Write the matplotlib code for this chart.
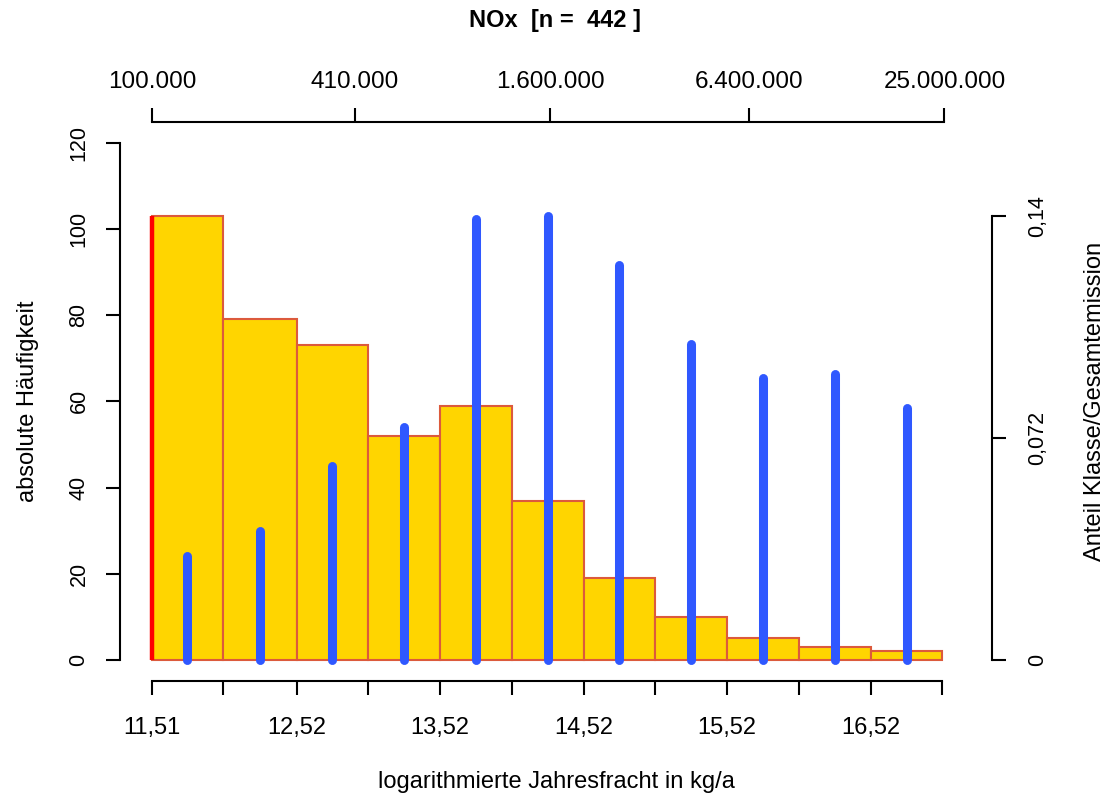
import numpy as np
import matplotlib
matplotlib.use("Agg")
import matplotlib.pyplot as plt

plt.rcParams['font.family'] = ['Liberation Sans', 'DejaVu Sans']

# histogram of log annual loads
bin_edges = [11.51, 12.01, 12.52, 13.02, 13.52, 14.02, 14.52, 15.02, 15.52, 16.02, 16.52, 17.02]
counts = [103, 79, 73, 52, 59, 37, 19, 10, 5, 3, 2]
# share of class in total emission
shares = [0.0336, 0.0419, 0.0628, 0.0756, 0.143, 0.144, 0.128, 0.1026, 0.0916, 0.0927, 0.0818]
share_ticks = [0, 0.072, 0.144]
share_ticklabels = ["0", "0,072", "0,14"]
bottom_labels = ["11,51", "", "12,52", "", "13,52", "", "14,52", "", "15,52", "", "16,52", ""]
top_values = [100000, 410000, 1600000, 6400000, 25000000]
top_labels = ["100.000", "410.000", "1.600.000", "6.400.000", "25.000.000"]
left_ticks = [0, 20, 40, 60, 80, 100, 120]
n_total = 442

W, H = 1105, 796
fig = plt.figure(figsize=(W / 100, H / 100), dpi=100)
ax = fig.add_axes([120 / W, 1 - 680.7 / H, 854 / W, (680.7 - 122) / H])

edges = np.array(bin_edges)
widths = np.diff(edges)
centers = edges[:-1] + widths / 2

ax.bar(edges[:-1], counts, width=widths, align='edge', color='#FFD500',
       edgecolor='#DC5A3C', linewidth=1.5, zorder=2)
ax.plot([edges[0], edges[0]], [0, counts[0]], color='#FF0000', lw=3.2,
        solid_capstyle='butt', zorder=3)

ymin, ymax = -4.8, 124.8
ax.set_xlim(11.29, 17.24)
ax.set_ylim(ymin, ymax)

ax.spines['right'].set_visible(False)
ax.spines['left'].set_bounds(0, 120)
ax.spines['bottom'].set_bounds(edges[0], edges[-1])
ax.spines['top'].set_bounds(np.log(top_values[0]), np.log(top_values[-1]))
for s in ['left', 'bottom', 'top']:
    ax.spines[s].set_linewidth(1.5)

ax.set_yticks(left_ticks)
ax.set_yticklabels([str(v) for v in left_ticks], rotation=90, va='center', fontsize=15.5)
ax.tick_params(axis='y', length=10, width=1.5, pad=12)

ax.set_xticks(edges)
ax.set_xticklabels(bottom_labels, fontsize=17)
ax.tick_params(axis='x', length=10, width=1.5, pad=16)

# top axis: back-transformed loads
axt = ax.secondary_xaxis('top')
axt.set_xticks(np.log(top_values))
axt.set_xticklabels(top_labels, fontsize=17.5)
axt.tick_params(length=10, width=1.5, pad=11)
axt.spines['top'].set_visible(False)

# right axis: share of total emission
scale = share_ticks[-1] / counts[0]
ax2 = ax.twinx()
ax2.set_ylim(ymin * scale, ymax * scale)
for x, s in zip(centers, shares):
    ax2.plot([x, x], [0, s], color='#2F58FF', lw=6.5, solid_capstyle='round', zorder=4)
for s in ['left', 'top', 'bottom']:
    ax2.spines[s].set_visible(False)
ax2.spines['right'].set_position(('outward', 13))
ax2.spines['right'].set_bounds(0, share_ticks[-1])
ax2.spines['right'].set_linewidth(1.5)
ax2.set_yticks(share_ticks)
ax2.set_yticklabels(share_ticklabels, rotation=90, va='center', fontsize=15.5)
ax2.tick_params(axis='y', length=10, width=1.5, pad=15)

fig.text(555 / W, 1 - 21 / H, "NOx  [n =  %d ]" % n_total, ha='center', va='center',
         fontsize=17, fontweight='bold')
fig.text(556 / W, 1 - 782 / H, "logarithmierte Jahresfracht in kg/a", ha='center',
         va='center', fontsize=17)
fig.text(28 / W, 1 - 401 / H, "absolute Häufigkeit", rotation=90, ha='center',
         va='center', fontsize=17)
fig.text(1095 / W, 1 - 401 / H, "Anteil Klasse/Gesamtemission", rotation=90,
         ha='center', va='center', fontsize=17)

fig.savefig("out.png", dpi=100)
